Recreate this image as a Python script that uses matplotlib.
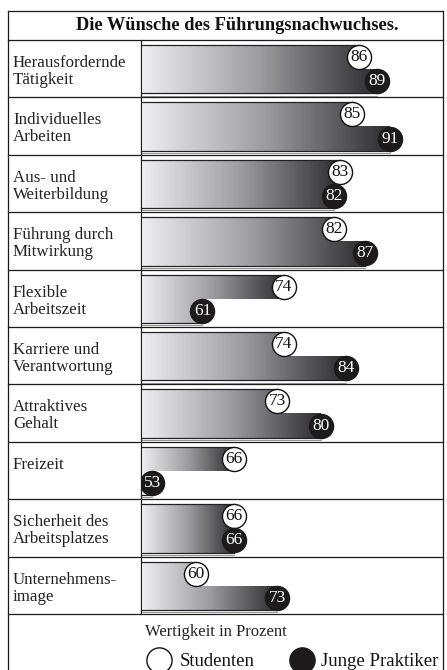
import matplotlib
matplotlib.use('Agg')
import matplotlib.pyplot as plt
import numpy as np
from matplotlib.patches import Polygon
from matplotlib.colors import LinearSegmentedColormap

# ---- data ----
categories = ["Herausfordernde\nTätigkeit", "Individuelles\nArbeiten", "Aus- und\nWeiterbildung",
              "Führung durch\nMitwirkung", "Flexible\nArbeitszeit", "Karriere und\nVerantwortung",
              "Attraktives\nGehalt", "Freizeit", "Sicherheit des\nArbeitsplatzes", "Unternehmens-\nimage"]
studenten = [86, 85, 83, 82, 74, 74, 73, 66, 66, 60]
praktiker = [89, 91, 82, 87, 61, 84, 80, 53, 66, 73]
title = "Die Wünsche des Führungsnachwuchses."
axis_note = "Wertigkeit in Prozent"
series_names = ["Studenten", "Junge Praktiker"]

# ---- layout ----
W, H = 447, 670
fig = plt.figure(figsize=(W / 100, H / 100), dpi=100)
bg = fig.add_axes([0, 0, 1, 1])
bg.set_xlim(0, W)
bg.set_ylim(H, 0)
bg.axis('off')

SERIF = ['Liberation Serif', 'DejaVu Serif']
frame_l, frame_r, frame_t = 8, 443, 11
title_b = 40
rows_b = 614
col_x = 140.5
bar_l = 141.5
n = len(categories)
row_h = (rows_b - title_b) / n
lc = '#1a1a1a'
lw = 0.9

bg.plot([frame_l, frame_r], [frame_t, frame_t], color=lc, lw=lw)
bg.plot([frame_l, frame_l], [frame_t, H], color=lc, lw=lw)
bg.plot([frame_r, frame_r], [frame_t, H], color=lc, lw=lw)
bg.plot([frame_l, frame_r], [title_b, title_b], color=lc, lw=lw)
for i in range(1, n + 1):
    y = title_b + i * row_h
    bg.plot([frame_l, frame_r], [y, y], color=lc, lw=lw)
bg.plot([col_x, col_x], [title_b, rows_b], color=lc, lw=lw, zorder=10)

bg.text(237, 26, title, ha='center', va='center',
        fontsize=13.2, fontweight='bold', family=SERIF, color='#111111')

for i, cat in enumerate(categories):
    top = title_b + i * row_h
    for j, line in enumerate(cat.split('\n')):
        bg.text(13, top + 27 + 17 * j, line, ha='left', va='baseline',
                fontsize=12.2, family=SERIF, color='#222222')

# ---- bars ----
ax = fig.add_axes([bar_l / W, 1 - rows_b / H, (frame_r - bar_l) / W, (rows_b - title_b) / H])
x0, x1 = 51.24, 99.5
ax.set_xlim(x0, x1)
ax.set_ylim(n, 0)
ax.axis('off')

cmap = LinearSegmentedColormap.from_list('g', ['#eeeef0', '#9c9ca0', '#2c2c2e'])
grad = np.linspace(0, 1, 256).reshape(1, -1)

for i in range(n):
    v1, v2 = studenten[i], praktiker[i]
    top = i + 5 / row_h
    mid = i + 29 / row_h
    bot = i + 1 - 4 / row_h
    vmax = max(v1, v2)
    pts = [(x0, top), (v1, top), (v1, mid), (v2, mid), (v2, bot), (x0, bot)]
    poly = Polygon(pts, closed=True, facecolor='none', edgecolor='none')
    ax.add_patch(poly)
    im = ax.imshow(grad, cmap=cmap, extent=(x0, vmax, bot, top), aspect='auto',
                   interpolation='bilinear', zorder=2)
    im.set_clip_path(poly)
    ax.plot([x0, v1], [top, top], color='#222222', lw=0.9, zorder=3)
    ax.plot([x0, v2], [bot, bot], color='#222222', lw=0.9, zorder=3)
    ax.plot([x0, v2], [bot + 2.2 / row_h, bot + 2.2 / row_h], color='#666666', lw=0.5, zorder=3)

    yc1 = (top + mid) / 2
    yc2 = (mid + bot) / 2
    ax.scatter([v1], [yc1], s=300, facecolor='white', edgecolor='#111111', linewidths=1.0, zorder=5)
    ax.scatter([v2], [yc2], s=300, facecolor='#1c1a1b', edgecolor='#1c1a1b', linewidths=1.0, zorder=5)
    ax.text(v1, yc1, str(v1), ha='center', va='center', fontsize=12.5, family=SERIF,
            color='#111111', zorder=6)
    ax.text(v2, yc2, str(v2), ha='center', va='center', fontsize=12.5, family=SERIF,
            color='white', zorder=6)

# ---- footer / legend ----
bg.text(216, 632, axis_note, ha='center', va='center', fontsize=12, family=SERIF, color='#222222')
bg.scatter([159], [660], s=330, facecolor='white', edgecolor='#111111', linewidths=1.0)
bg.scatter([302], [660], s=330, facecolor='#1c1a1b', edgecolor='#1c1a1b', linewidths=1.0)
bg.text(180, 661, series_names[0], ha='left', va='center', fontsize=13.5, family=SERIF, color='#111111')
bg.text(321, 661, series_names[1], ha='left', va='center', fontsize=13.5, family=SERIF, color='#111111')

fig.savefig('out.png', dpi=100, facecolor='white')
